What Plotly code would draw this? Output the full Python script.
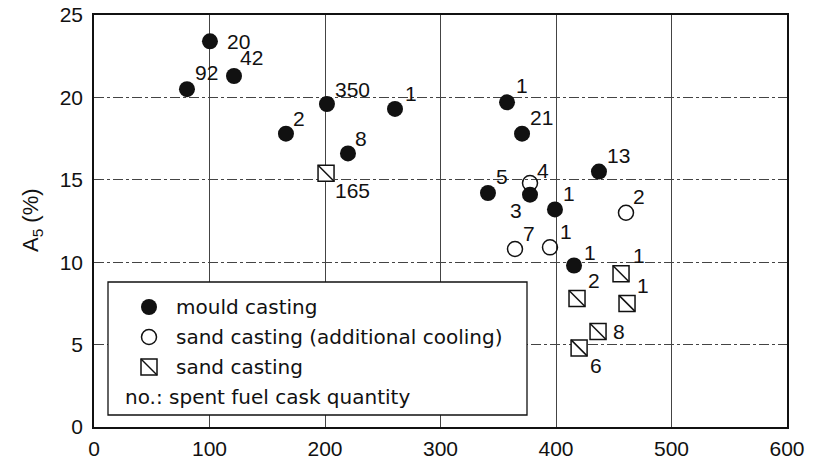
import plotly.graph_objects as go

# ---------------- data ----------------
mould_x = [100.4, 80.5, 121.2, 166.2, 201.7, 219.9, 260.6, 357.6, 370.6, 341.1, 377.5, 399.1, 437.2, 415.6]
mould_y = [23.4, 20.5, 21.3, 17.8, 19.6, 16.6, 19.3, 19.7, 17.8, 14.2, 14.1, 13.2, 15.5, 9.8]
mould_n = ["20", "92", "42", "2", "350", "8", "1", "1", "21", "5", "3", "1", "13", "1"]

cool_x = [377.5, 460.6, 364.5, 394.8]
cool_y = [14.8, 13.0, 10.8, 10.9]
cool_n = ["4", "2", "7", "1"]

sand_x = [200.9, 418.2, 456.3, 461.5, 436.4, 420.0]
sand_y = [15.4, 7.8, 9.3, 7.5, 5.8, 4.8]
sand_n = ["165", "2", "1", "1", "8", "6"]

x_ticks = [0, 100, 200, 300, 400, 500, 600]
y_ticks = [0, 5, 10, 15, 20, 25]

legend_labels = ["mould casting", "sand casting (additional cooling)", "sand casting"]
legend_note = "no.: spent fuel cask quantity"
y_title = "A<sub>5</sub> (%)"

# ---------------- label placement (pixel offsets: dx, dy, side) ----------------
mould_off = [(17, 0, "r"), (8, 17, "r"), (6, 18, "r"), (7, 15, "r"), (8, 14, "r"), (7, 15, "r"),
             (10, 15, "r"), (9, 17, "r"), (8, 16, "r"), (8, 16, "r"), (-8, -16, "l"), (8, 16, "r"),
             (8, 16, "r"), (10, 13, "r")]
cool_off = [(7, 13, "r"), (7, 16, "r"), (8, 16, "r"), (10, 16, "r")]
sand_off = [(9, -17, "r"), (11, 18, "r"), (12, 18, "r"), (10, 18, "r"), (15, 0, "r"), (11, -18, "r")]

INK = "#111111"
NUM_FONT = dict(family="Liberation Sans, Arial, sans-serif", size=21, color=INK)
LEG_FONT = dict(family="DejaVu Sans, sans-serif", size=20, color=INK)

fig = go.Figure()

fig.add_trace(go.Scatter(
    x=mould_x, y=mould_y, mode="markers", name=legend_labels[0],
    marker=dict(symbol="circle", size=16, color=INK, line=dict(width=0)),
    showlegend=False, hoverinfo="skip"))
fig.add_trace(go.Scatter(
    x=cool_x, y=cool_y, mode="markers", name=legend_labels[1],
    marker=dict(symbol="circle-open", size=15, color=INK, line=dict(width=1.5, color=INK)),
    showlegend=False, hoverinfo="skip"))
fig.add_trace(go.Scatter(
    x=sand_x, y=sand_y, mode="markers", name=legend_labels[2],
    marker=dict(symbol="square", size=16, color="white", line=dict(width=1.5, color=INK)),
    showlegend=False, hoverinfo="skip"))
fig.add_trace(go.Scatter(
    x=sand_x, y=sand_y, mode="markers", name=legend_labels[2] + " diag",
    marker=dict(symbol="line-nw", size=16, color=INK, line=dict(width=1.5, color=INK)),
    showlegend=False, hoverinfo="skip"))

annotations = []
for xs, ys, ns, offs in [(mould_x, mould_y, mould_n, mould_off),
                         (cool_x, cool_y, cool_n, cool_off),
                         (sand_x, sand_y, sand_n, sand_off)]:
    for xv, yv, nv, (dx, dy, side) in zip(xs, ys, ns, offs):
        annotations.append(dict(
            x=xv, y=yv, xref="x", yref="y", text=nv, showarrow=False,
            xanchor="left" if side == "r" else "right", yanchor="middle",
            xshift=dx - 2 if side == "r" else dx + 2, yshift=dy, font=NUM_FONT))

# ---------------- geometry ----------------
# the page body has an 8 px margin, so the figure is made 8 px smaller
BODY = 8
W, H = 820 - BODY, 465 - BODY
# plot area in window pixels: left 94, right 787, top 15, bottom 427
PL, PR, PT, PB = 94, 787, 15, 427
ML, MT = PL - BODY, PT - BODY
MR, MB = 820 - PR, 465 - PB
PW, PH = PR - PL, PB - PT


def px(xp):
    return (xp - PL) / PW


def py(yp):
    return (PB - yp) / PH


# y-axis title
annotations.append(dict(x=px(32), y=py(220), xref="paper", yref="paper", text=y_title,
                        showarrow=False, textangle=-90, xanchor="center", yanchor="middle",
                        font=dict(family="Liberation Sans, Arial, sans-serif", size=22, color=INK)))

# manual legend
shapes = [dict(type="rect", xref="paper", yref="paper", x0=px(108), x1=px(527), y0=py(415), y1=py(282),
               line=dict(color=INK, width=1.3), fillcolor="white", layer="above")]
sym_x = px(149)
rows = [py(307), py(337), py(367), py(397)]
shapes.append(dict(type="circle", xref="paper", yref="paper", xsizemode="pixel", ysizemode="pixel",
                   xanchor=sym_x, yanchor=rows[0], x0=-8, x1=8, y0=-8, y1=8,
                   fillcolor=INK, line=dict(color=INK, width=0), layer="above"))
shapes.append(dict(type="circle", xref="paper", yref="paper", xsizemode="pixel", ysizemode="pixel",
                   xanchor=sym_x, yanchor=rows[1], x0=-7.5, x1=7.5, y0=-7.5, y1=7.5,
                   fillcolor="white", line=dict(color=INK, width=1.5), layer="above"))
shapes.append(dict(type="rect", xref="paper", yref="paper", xsizemode="pixel", ysizemode="pixel",
                   xanchor=sym_x, yanchor=rows[2], x0=-8, x1=8, y0=-8, y1=8,
                   fillcolor="white", line=dict(color=INK, width=1.5), layer="above"))
shapes.append(dict(type="line", xref="paper", yref="paper", xsizemode="pixel", ysizemode="pixel",
                   xanchor=sym_x, yanchor=rows[2], x0=-8, x1=8, y0=8, y1=-8,
                   line=dict(color=INK, width=1.5), layer="above"))

for i, lab in enumerate(legend_labels):
    annotations.append(dict(x=px(176), y=rows[i], xref="paper", yref="paper", text=lab,
                            showarrow=False, xanchor="left", yanchor="middle", xshift=-2,
                            font=LEG_FONT))
annotations.append(dict(x=px(125), y=rows[3], xref="paper", yref="paper", text=legend_note,
                        showarrow=False, xanchor="left", yanchor="middle", xshift=-2,
                        font=LEG_FONT))

axis_common = dict(showline=True, linecolor=INK, linewidth=1.5, mirror=True,
                   showgrid=True, gridcolor="#444444", gridwidth=1, zeroline=False,
                   ticks="", tickfont=NUM_FONT, automargin=False, ticklabeloverflow="allow")

fig.update_layout(
    width=W, height=H,
    margin=dict(l=ML, r=MR, t=MT, b=MB, pad=0, autoexpand=False),
    paper_bgcolor="white", plot_bgcolor="white",
    showlegend=False,
    xaxis=dict(range=[0, 600], tickvals=x_ticks, ticktext=[str(v) for v in x_ticks],
               ticklabelstandoff=2, **axis_common),
    yaxis=dict(range=[0, 25], tickvals=y_ticks, ticktext=[str(v) for v in y_ticks],
               griddash="10px,3px,3px,3px", ticklabelstandoff=5, **axis_common),
    annotations=annotations,
    shapes=shapes,
)

fig.write_html("out.html")
